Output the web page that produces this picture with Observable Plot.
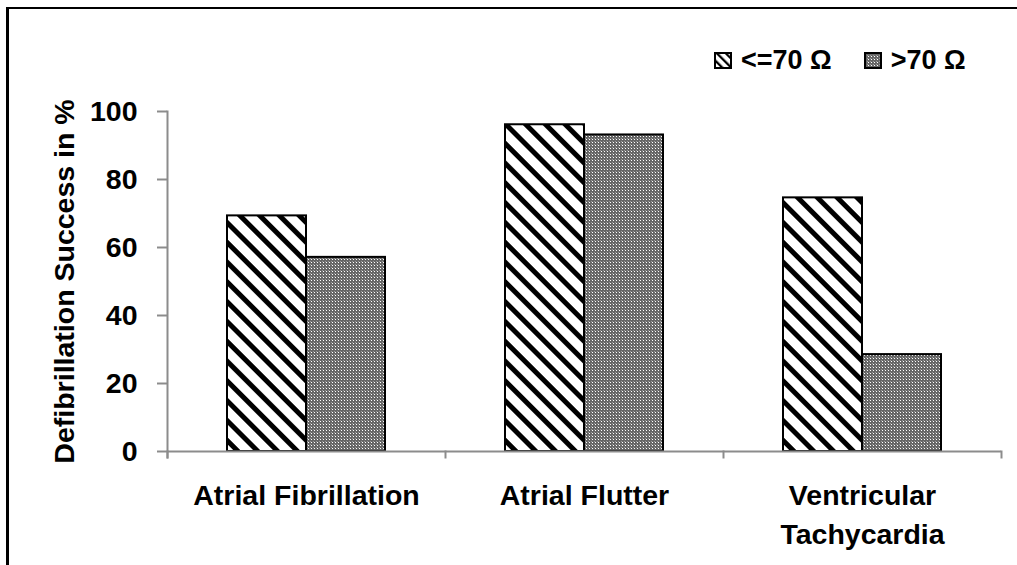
<!DOCTYPE html>
<html>
<head>
<meta charset="utf-8">
<script src="https://cdn.jsdelivr.net/npm/d3@7"></script>
<script src="https://cdn.jsdelivr.net/npm/@observablehq/plot@0.6"></script>
<style>
  html, body { margin: 0; padding: 0; background: #fff; }
  #wrap { position: relative; width: 1017px; height: 565px; overflow: hidden; font-family: "Liberation Sans", Arial, sans-serif; }
  #border { position: absolute; left: 6px; top: 7px; right: -10px; bottom: -10px; border-left: 3px solid #000; border-top: 2px solid #000; pointer-events: none; }
  #legend { position: absolute; left: 714px; top: 45px; display: flex; align-items: center; font-weight: bold; font-size: 27px; color: #000; }
  #legend .item { display: flex; align-items: center; margin-right: 32px; }
  #legend svg { margin-right: 9px; display: block; }
</style>
</head>
<body>
<div id="wrap">
  <div id="chart"></div>
  <div id="legend"></div>
  <div id="border"></div>
</div>
<script>
const categories = ["Atrial Fibrillation", "Atrial Flutter", "Ventricular Tachycardia"];
const categoryLabels = ["Atrial Fibrillation", "Atrial Flutter", "Ventricular\nTachycardia"];
const series = ["<=70 Ω", ">70 Ω"];
const lowImpedance = [69.3, 96.1, 74.6];
const highImpedance = [57.1, 93.1, 28.5];
const yTicks = [0, 20, 40, 60, 80, 100];
const yLabel = "Defibrillation Success in %";

const data = [];
categories.forEach((c, i) => {
  data.push({category: c, series: series[0], value: lowImpedance[i]});
  data.push({category: c, series: series[1], value: highImpedance[i]});
});

const fills = ["url(#stripes)", "url(#checks)"];
const axisGray = "#8c8c8c";

const chart = Plot.plot({
  width: 1017,
  height: 565,
  marginLeft: 166,
  marginRight: 16,
  marginTop: 111,
  marginBottom: 114,
  style: {fontFamily: "'Liberation Sans', Arial, sans-serif", fontWeight: "bold", fontSize: "28.5px", color: "#000", background: "transparent"},
  fx: {domain: categories, padding: 0},
  x: {domain: series, paddingInner: 0, paddingOuter: 0.74, axis: null},
  y: {domain: [0, 100]},
  color: {type: "ordinal", domain: series, range: fills},
  marks: [
    Plot.barY(data, {fx: "category", x: "series", y: "value", fill: "series", stroke: "#000", strokeWidth: 2, inset: 0}),
    Plot.ruleY([0], {stroke: axisGray, strokeWidth: 2}),
    Plot.frame({anchor: "left", facetAnchor: "left", stroke: axisGray, strokeWidth: 2, insetBottom: -6}),
    Plot.frame({anchor: "left", stroke: axisGray, strokeWidth: 2, insetTop: 340, insetBottom: -6}),
    Plot.frame({anchor: "right", facetAnchor: "right", stroke: axisGray, strokeWidth: 2, insetTop: 340, insetBottom: -6}),
    Plot.axisY({ticks: yTicks, tickSize: 10, tickPadding: 20, stroke: axisGray, strokeWidth: 2, tickFormat: d => d,
      label: yLabel, labelAnchor: "center", labelArrow: "none", labelOffset: 114, fill: "#000"}),
    Plot.axisFx({anchor: "bottom", tickSize: 0, tickPadding: 26, lineHeight: 1.37, label: null,
      tickFormat: d => categoryLabels[categories.indexOf(d)], fill: "#000"})
  ]
});

// patterns
const svg = d3.select(chart);
const defs = svg.insert("defs", ":first-child");
function addPatterns(defs, suffix, scale) {
  const p1 = defs.append("pattern").attr("id", "stripes" + suffix).attr("patternUnits", "userSpaceOnUse")
    .attr("width", 14 * scale).attr("height", 14 * scale).attr("patternTransform", "rotate(-45)");
  p1.append("rect").attr("width", 14 * scale).attr("height", 14 * scale).attr("fill", "#fff");
  p1.append("rect").attr("x", 0).attr("width", 5 * scale).attr("height", 14 * scale).attr("fill", "#000");
  const p2 = defs.append("pattern").attr("id", "checks" + suffix).attr("patternUnits", "userSpaceOnUse")
    .attr("width", 3).attr("height", 3);
  p2.append("rect").attr("width", 3).attr("height", 3).attr("fill", "#666");
  p2.append("rect").attr("x", 1).attr("y", 1).attr("width", 1).attr("height", 1).attr("fill", "#fff");
  p2.append("rect").attr("x", 0).attr("y", 0).attr("width", 1).attr("height", 1).attr("fill", "#9a9a9a");
}
addPatterns(defs, "", 1);
document.getElementById("chart").appendChild(chart);

// legend
const legend = d3.select("#legend");
series.forEach((s, i) => {
  const item = legend.append("div").attr("class", "item");
  const sw = item.append("svg").attr("width", 18).attr("height", 17);
  const d = sw.append("defs");
  addPatterns(d, "-lg" + i, 0.45);
  sw.append("rect").attr("x", 1).attr("y", 1).attr("width", 16).attr("height", 15)
    .attr("fill", i === 0 ? "url(#stripes-lg" + i + ")" : "url(#checks-lg" + i + ")")
    .attr("stroke", "#000").attr("stroke-width", 2);
  item.append("span").text(s);
});
</script>
</body>
</html>
